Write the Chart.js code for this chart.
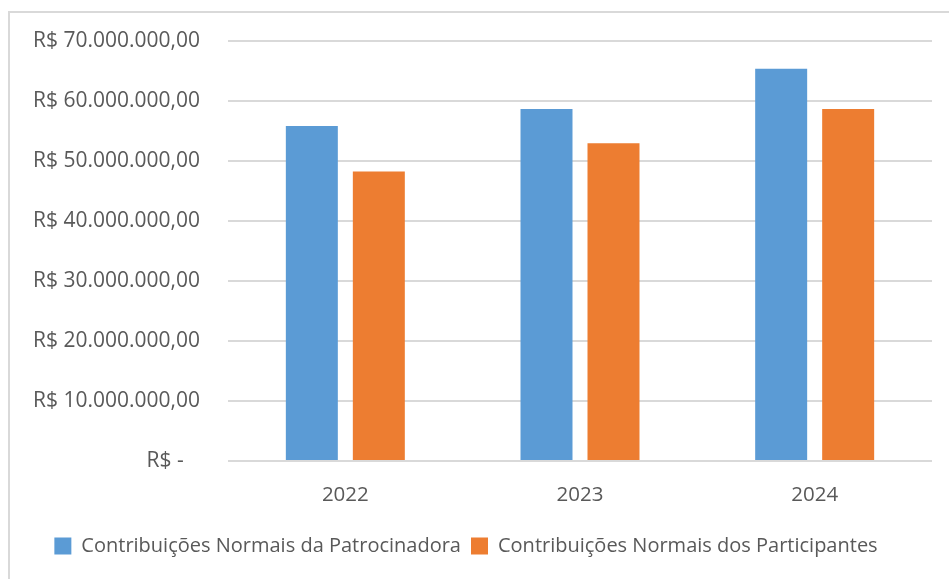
<!DOCTYPE html>
<html>
<head>
<meta charset="utf-8">
<script src="https://cdn.jsdelivr.net/npm/chart.js@4/dist/chart.umd.min.js"></script>
<style>
  html, body { margin: 0; padding: 0; background: #fff; }
  #frame { position: absolute; left: 8px; top: 11px; width: 945px; height: 580px; border-left: 2px solid #d9d9d9; border-top: 2px solid #d9d9d9; }
  #wrap { position: absolute; left: 0; top: 0; width: 949px; height: 579px; }
</style>
</head>
<body>
<div id="frame"></div>
<div id="wrap"><canvas id="myChart" width="949" height="579"></canvas></div>
<script>
  const years = ['2022', '2023', '2024'];
  const patrocinadora = [55800000, 58600000, 65300000];
  const participantes = [48200000, 52900000, 58600000];
  const yTicks = [0, 10000000, 20000000, 30000000, 40000000, 50000000, 60000000, 70000000];
  const yTickLabels = ['R$ -   ', 'R$ 10.000.000,00', 'R$ 20.000.000,00', 'R$ 30.000.000,00',
    'R$ 40.000.000,00', 'R$ 50.000.000,00', 'R$ 60.000.000,00', 'R$ 70.000.000,00'];

  const textColor = '#595959';
  const ctx = document.getElementById('myChart').getContext('2d');

  const myChart = new Chart(ctx, {
    type: 'bar',
    data: {
      labels: years,
      datasets: [{
        label: 'Contribuições Normais da Patrocinadora',
        data: patrocinadora,
        backgroundColor: '#5B9BD5',
        categoryPercentage: 0.571,
        barPercentage: 0.776
      }, {
        label: 'Contribuições Normais dos Participantes',
        data: participantes,
        backgroundColor: '#ED7D31',
        categoryPercentage: 0.571,
        barPercentage: 0.776
      }]
    },
    options: {
      responsive: false,
      animation: false,
      layout: {
        padding: { left: 0, right: 17, top: 40, bottom: 13 }
      },
      plugins: {
        legend: {
          position: 'bottom',
          labels: {
            color: textColor,
            boxWidth: 17,
            boxHeight: 17,
            padding: 10,
            font: { family: 'Open Sans', size: 20 }
          }
        },
        tooltip: { enabled: false }
      },
      scales: {
        x: {
          grid: { display: false },
          border: { display: false },
          ticks: {
            color: textColor,
            padding: 14,
            font: { family: 'Open Sans', size: 20.5 }
          },
          afterFit: (scale) => { scale.height = 65; }
        },
        y: {
          min: 0,
          max: 70000000,
          afterBuildTicks: (scale) => { scale.ticks = yTicks.map(v => ({ value: v })); },
          grid: { color: '#d9d9d9', lineWidth: 2, drawTicks: false },
          border: { display: false },
          ticks: {
            color: textColor,
            padding: 28,
            font: { family: 'Open Sans', size: 21 },
            callback: (value) => yTickLabels[yTicks.indexOf(value)]
          },
          afterFit: (scale) => { scale.width = 228; }
        }
      }
    }
  });
</script>
</body>
</html>
